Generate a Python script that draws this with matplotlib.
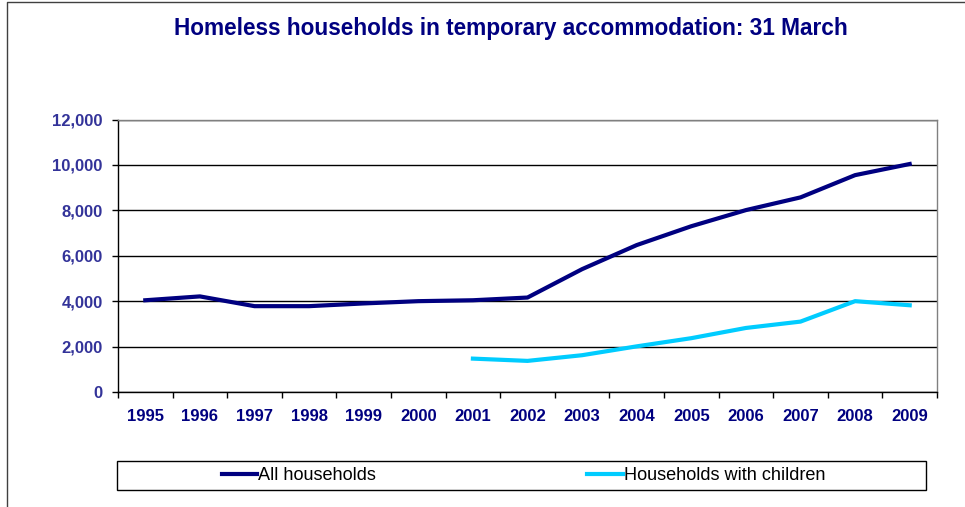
import numpy as np
import matplotlib.pyplot as plt
from matplotlib.lines import Line2D
from matplotlib.patches import Rectangle

plt.rcParams['font.family'] = ['Liberation Sans', 'DejaVu Sans']

# Homeless households in temporary accommodation, 31 March each year
years = ["1995", "1996", "1997", "1998", "1999", "2000", "2001", "2002",
         "2003", "2004", "2005", "2006", "2007", "2008", "2009"]
all_households = [4040, 4210, 3780, 3780, 3900, 4000, 4040, 4160,
                  5410, 6470, 7300, 8010, 8570, 9550, 10040]
# children series only starts in 2001
with_children = [np.nan] * 6 + [1470, 1370, 1620, 2010, 2370, 2820, 3100, 4000, 3820]

NAVY = "#000080"
CYAN = "#00CCFF"

fig = plt.figure(figsize=(9.65, 5.07), dpi=100)
W, H = 965, 507
ax = fig.add_axes([118 / W, 1 - 392 / H, (937 - 118) / W, (392 - 119.5) / H])

x = np.arange(len(years))
ax.plot(x, all_households, color=NAVY, lw=3.0, solid_joinstyle="round", label="All households")
ax.plot(x, with_children, color=CYAN, lw=3.0, solid_joinstyle="round", label="Households with children")

ax.set_xlim(-0.5, len(years) - 0.5)
ax.set_ylim(0, 12000)
ax.set_yticks(range(0, 12001, 2000))
ax.set_yticklabels([f"{v:,}" for v in range(0, 12001, 2000)])
ax.yaxis.grid(True, color="black", lw=1.0)
ax.set_axisbelow(True)

ax.set_xticks(x)
ax.set_xticklabels(years)
ax.set_xticks(np.arange(-0.5, len(years)), minor=True)
ax.tick_params(axis="x", which="major", length=0, pad=12, labelsize=12,
               labelcolor=NAVY)
ax.tick_params(axis="x", which="minor", length=4, width=1, color="black", direction="out")
ax.tick_params(axis="y", length=4, width=1, color="black", pad=7, labelsize=12,
               labelcolor="#333399")
for lbl in ax.get_xticklabels() + ax.get_yticklabels():
    lbl.set_fontweight("bold")

for side in ["top", "right"]:
    ax.spines[side].set_color("#808080")
for side in ["left", "bottom"]:
    ax.spines[side].set_color("black")
for sp in ax.spines.values():
    sp.set_linewidth(1.0)

fig.text(511 / W, 1 - 29 / H, "Homeless households in temporary accommodation: 31 March",
         ha="center", va="center", fontsize=16.3, fontweight="bold", color=NAVY)

# legend box under the chart
fig.patches.append(Rectangle((117 / W, 1 - 490 / H), (926 - 117) / W, 29 / H,
                             transform=fig.transFigure, fill=False,
                             edgecolor="black", lw=1.0))
fig.legend(loc="center left", bbox_to_anchor=(222 / W, 1 - 475.5 / H), ncol=2,
           frameon=False, fontsize=13.1, handlelength=1.95, handletextpad=0.05,
           columnspacing=11.6, borderpad=0, borderaxespad=0)

# outer frame
fig.lines.append(Line2D([7 / W, 7 / W, 1], [0, 1 - 2 / H, 1 - 2 / H],
                        transform=fig.transFigure, color="#404040", lw=1.0))

fig.savefig("out.png", dpi=100)
